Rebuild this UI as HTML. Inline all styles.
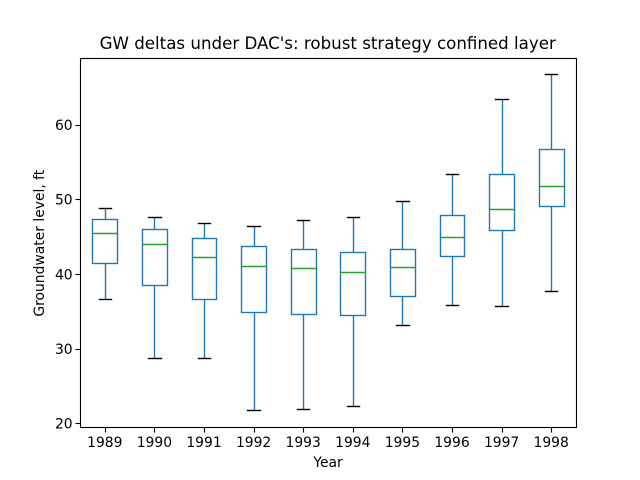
<!DOCTYPE html>
<html>
<head>
<meta charset="utf-8">
<title>GW deltas boxplot</title>
<style>
html,body{margin:0;padding:0;background:#fff;width:640px;height:480px;overflow:hidden}
svg{display:block}
text{font-family:"DejaVu Sans",sans-serif;fill:#000}
</style>
</head>
<body>
<svg id="chart" width="640" height="480" viewBox="0 0 640 480" xmlns="http://www.w3.org/2000/svg">
<rect x="0" y="0" width="640" height="480" fill="#fff"/>
<text x="327.7" y="49" font-size="16.67" text-anchor="middle">GW deltas under DAC's: robust strategy confined layer</text>
<text x="328" y="467" font-size="13.89" text-anchor="middle">Year</text>
<text x="0" y="0" font-size="13.89" text-anchor="middle" transform="translate(44,243.2) rotate(-90)">Groundwater level, ft</text>
<g id="marks"></g>
<g id="ticks"></g>
<rect x="80.5" y="58.5" width="496" height="369" fill="none" stroke="#000" stroke-width="1.11"/>
</svg>
<script>
const years = [1989, 1990, 1991, 1992, 1993, 1994, 1995, 1996, 1997, 1998];
const whiskerLow = [36.67, 28.76, 28.76, 21.79, 21.93, 22.33, 33.18, 35.86, 35.73, 37.74];
const quartile1 = [41.49, 38.54, 36.67, 34.92, 34.66, 34.52, 37.07, 42.43, 45.91, 49.13];
const medians = [45.51, 44.04, 42.29, 41.09, 40.82, 40.28, 40.95, 44.97, 48.73, 51.81];
const quartile3 = [47.39, 46.05, 44.84, 43.77, 43.37, 42.96, 43.37, 47.92, 53.41, 56.76];
const whiskerHigh = [48.86, 47.65, 46.85, 46.45, 47.25, 47.65, 49.80, 53.41, 63.46, 66.81];
const yTickLabels = [20, 30, 40, 50, 60];

const NS = 'http://www.w3.org/2000/svg';
const plotLeft = 80, plotRight = 576, plotTop = 57.6, plotBottom = 427.2;
const yMin = 19.486, yMax = 69.006;
function xScale(index) {
  return plotLeft + (index + 0.5) / years.length * (plotRight - plotLeft);
}
function xSpan(categories) {
  return categories / years.length * (plotRight - plotLeft);
}
function yScale(value) {
  return plotBottom - (value - yMin) / (yMax - yMin) * (plotBottom - plotTop);
}
function snap(pixel) {
  return Math.floor(pixel + 0.5) + 0.5;
}
function drawLine(parent, x1, y1, x2, y2, color, width, cap) {
  const el = document.createElementNS(NS, 'line');
  el.setAttribute('x1', snap(x1));
  el.setAttribute('y1', snap(y1));
  el.setAttribute('x2', snap(x2));
  el.setAttribute('y2', snap(y2));
  el.setAttribute('stroke', color);
  el.setAttribute('stroke-width', width);
  el.setAttribute('stroke-linecap', cap);
  parent.appendChild(el);
  return el;
}
const marks = document.getElementById('marks');
const ticks = document.getElementById('ticks');
const BLUE = '#1f77b4', GREEN = '#2ca02c', BLACK = '#000', LW = 1.39;

years.forEach(function (year, i) {
  const cx = xScale(i);
  const boxHalf = xSpan(0.25);
  const capHalf = xSpan(0.125);
  const group = document.createElementNS(NS, 'g');
  
  
  marks.appendChild(group);

  const lowerWhisker = drawLine(group, cx, yScale(quartile1[i]), cx, yScale(whiskerLow[i]), BLUE, LW, 'butt');
  
  

  const upperWhisker = drawLine(group, cx, yScale(quartile3[i]), cx, yScale(whiskerHigh[i]), BLUE, LW, 'butt');
  
  

  const lowerCap = drawLine(group, cx - capHalf, yScale(whiskerLow[i]), cx + capHalf, yScale(whiskerLow[i]), BLACK, LW, 'square');
  
  

  const upperCap = drawLine(group, cx - capHalf, yScale(whiskerHigh[i]), cx + capHalf, yScale(whiskerHigh[i]), BLACK, LW, 'square');
  
  

  const boxLeft = snap(cx - boxHalf);
  const boxRight = snap(cx + boxHalf);
  const boxTop = snap(yScale(quartile3[i]));
  const boxBottom = snap(yScale(quartile1[i]));
  const box = document.createElementNS(NS, 'rect');
  box.setAttribute('x', boxLeft);
  box.setAttribute('y', boxTop);
  box.setAttribute('width', boxRight - boxLeft);
  box.setAttribute('height', boxBottom - boxTop);
  box.setAttribute('fill', 'none');
  box.setAttribute('stroke', BLUE);
  box.setAttribute('stroke-width', LW);
  
  
  group.appendChild(box);

  const median = drawLine(group, cx - boxHalf, yScale(medians[i]), cx + boxHalf, yScale(medians[i]), GREEN, LW, 'square');
  
  

  const tick = drawLine(ticks, cx, plotBottom, cx, plotBottom + 4.86, BLACK, 1.11, 'butt');
  
  

  const label = document.createElementNS(NS, 'text');
  label.setAttribute('x', cx);
  label.setAttribute('y', 447);
  label.setAttribute('font-size', '13.89');
  label.setAttribute('text-anchor', 'middle');
  
  
  label.textContent = year;
  ticks.appendChild(label);
});

yTickLabels.forEach(function (value) {
  const y = yScale(value);
  const tick = drawLine(ticks, plotLeft - 4.86, y, plotLeft, y, BLACK, 1.11, 'butt');
  
  

  const label = document.createElementNS(NS, 'text');
  label.setAttribute('x', 72.6);
  label.setAttribute('y', y + 5.2);
  label.setAttribute('font-size', '13.89');
  label.setAttribute('text-anchor', 'end');
  
  
  label.textContent = value;
  ticks.appendChild(label);
});
</script>
</body>
</html>
